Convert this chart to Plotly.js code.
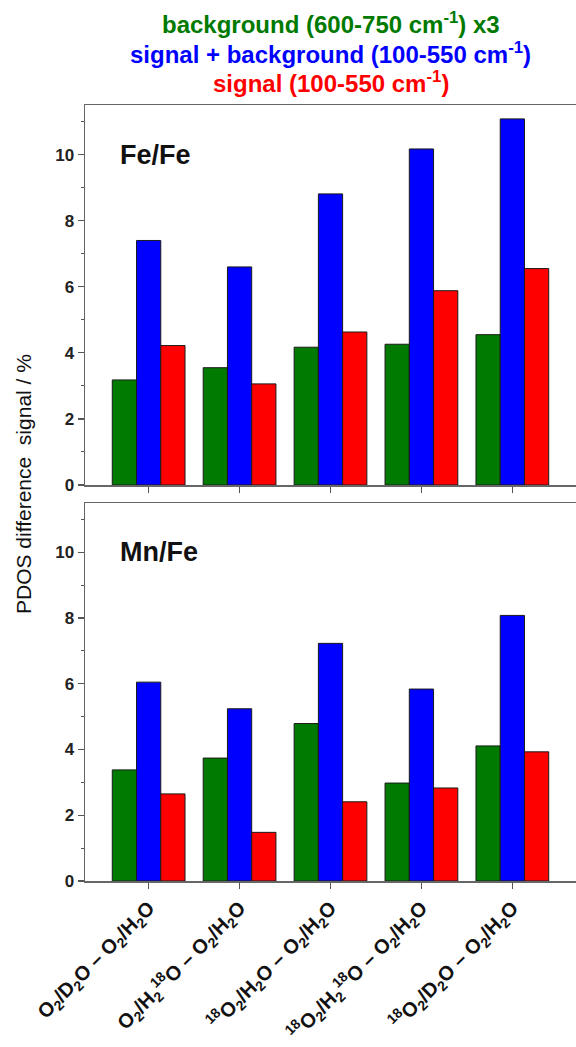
<!DOCTYPE html>
<html>
<head>
<meta charset="utf-8">
<script src="https://cdn.plot.ly/plotly-3.0.1.min.js"></script>
<style>html,body{margin:0;padding:0;background:#fff;}#chart{width:576px;height:1047px;}</style>
</head>
<body>
<div id="chart"></div>
<script>
const categories = [
  "O<sub>2</sub>/D<sub>2</sub>O – O<sub>2</sub>/H<sub>2</sub>O",
  "O<sub>2</sub>/H<sub>2</sub><sup>18</sup>O – O<sub>2</sub>/H<sub>2</sub>O",
  "<sup>18</sup>O<sub>2</sub>/H<sub>2</sub>O – O<sub>2</sub>/H<sub>2</sub>O",
  "<sup>18</sup>O<sub>2</sub>/H<sub>2</sub><sup>18</sup>O – O<sub>2</sub>/H<sub>2</sub>O",
  "<sup>18</sup>O<sub>2</sub>/D<sub>2</sub>O – O<sub>2</sub>/H<sub>2</sub>O"
];
const seriesNames = [
  "background (600-750 cm<sup>-1</sup>) x3",
  "signal + background (100-550 cm<sup>-1</sup>)",
  "signal (100-550 cm<sup>-1</sup>)"
];
const seriesColors = ["#007a00", "#0000ff", "#ff0000"];
// Fe/Fe panel
const feBackground = [3.18, 3.55, 4.17, 4.26, 4.55];
const feSignalBackground = [7.40, 6.60, 8.81, 10.17, 11.08];
const feSignal = [4.22, 3.06, 4.63, 5.88, 6.55];
// Mn/Fe panel
const mnBackground = [3.38, 3.74, 4.79, 2.98, 4.11];
const mnSignalBackground = [6.05, 5.24, 7.23, 5.84, 8.08];
const mnSignal = [2.65, 1.48, 2.41, 2.83, 3.93];

const panels = [
  {label: "Fe/Fe", xa: "x", ya: "y", data: [feBackground, feSignalBackground, feSignal]},
  {label: "Mn/Fe", xa: "x2", ya: "y2", data: [mnBackground, mnSignalBackground, mnSignal]}
];

const traces = [];
panels.forEach(p => {
  p.data.forEach((vals, i) => {
    traces.push({
      type: "bar", x: categories, y: vals, xaxis: p.xa, yaxis: p.ya,
      name: seriesNames[i], showlegend: false,
      marker: {color: seriesColors[i], line: {color: "#1a1a1a", width: 1}},
      hoverinfo: "y"
    });
  });
});

const FONT = "Arial, 'Liberation Sans', sans-serif";
const axisLine = {showline: true, linecolor: "#666", linewidth: 1.5};
const yCommon = Object.assign({}, axisLine, {
  range: [0, 11.5], dtick: 2, tick0: 0, ticks: "outside", ticklen: 6, tickwidth: 1.2, tickcolor: "#555",
  minor: {dtick: 1, ticks: "outside", ticklen: 3, tickcolor: "#555", tickwidth: 1},
  showgrid: false, zeroline: false, mirror: false,
  tickfont: {family: FONT, size: 17, color: "#222", weight: "bold"}
});
const xCommon = Object.assign({}, axisLine, {
  type: "category", range: [-0.7, 4.7], mirror: true, ticks: "outside", ticklen: 6, tickwidth: 1.2,
  tickcolor: "#555", showgrid: false, zeroline: false
});

const titleRows = [23, 53, 82];
const annotations = seriesNames.map((t, i) => ({
  text: t, xref: "paper", yref: "paper", x: 0.5, y: (881 - titleRows[i]) / 776,
  xanchor: "center", yanchor: "middle", showarrow: false,
  font: {family: FONT, size: 24, weight: "bold", color: seriesColors[i]}
}));

panels.forEach(p => {
  annotations.push({
    text: p.label, xref: "paper", yref: p.ya, x: 0.068, y: 10, xanchor: "left", yanchor: "middle",
    showarrow: false, font: {family: FONT, size: 27, color: "#111", weight: "bold"}
  });
});
annotations.push({
  text: "PDOS difference  signal / %", xref: "paper", yref: "paper",
  x: (23 - 85) / 491, y: (881 - 484) / 776, textangle: -90, showarrow: false,
  xanchor: "center", yanchor: "middle",
  font: {family: FONT, size: 21, color: "#111"}
});

const layout = {
  width: 576, height: 1047,
  margin: {l: 85, r: 0, t: 105, b: 166},
  paper_bgcolor: "#fff", plot_bgcolor: "#fff",
  barmode: "group", bargap: 0.2, bargroupgap: 0,
  xaxis: Object.assign({}, xCommon, {anchor: "y", showticklabels: false}),
  yaxis: Object.assign({}, yCommon, {domain: [0.5103, 1], anchor: "x"}),
  xaxis2: Object.assign({}, xCommon, {anchor: "y2", tickangle: -45,
    tickfont: {family: FONT, size: 20, color: "#111", weight: "bold"}}),
  yaxis2: Object.assign({}, yCommon, {domain: [0, 0.4871], anchor: "x2"}),
  annotations: annotations,
  showlegend: false
};

Plotly.newPlot("chart", traces, layout, {displayModeBar: false, staticPlot: true});
</script>
</body>
</html>
